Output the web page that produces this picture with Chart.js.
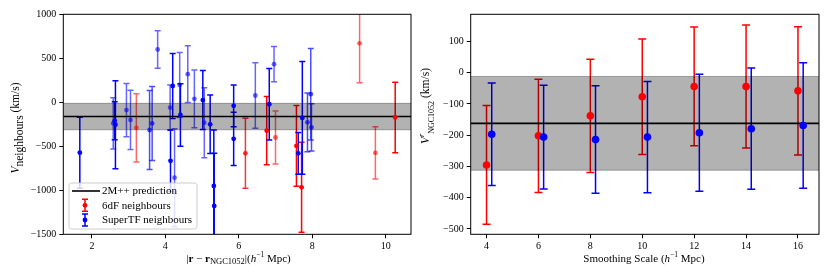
<!DOCTYPE html>
<html><head><meta charset="utf-8">
<script src="https://cdn.jsdelivr.net/npm/chart.js@4.4.0/dist/chart.umd.min.js"></script>
<style>html,body{margin:0;padding:0;background:#fff;}#wrap{position:relative;width:830px;height:277px;background:#fff}canvas{position:absolute;top:0}</style>
</head><body><div id="wrap"><canvas id="c1" width="415" height="277" style="left:0"></canvas><canvas id="c2" width="415" height="277" style="left:415px"></canvas></div>
<script>
// ---------------- data: left panel (neighbours) ----------------
const sixdfDist   = [3.21, 6.18, 6.76, 7.00, 7.57, 7.71, 9.29, 9.72, 10.26];
const sixdfVel    = [-290, -580, -323, -400, -495, -966, 670, -575, -172];
const sixdfErr    = [388, 398, 388, 300, 460, 511, 447, 297, 400];
const sixdfAlpha  = [0.6, 0.8, 1, 0.6, 1, 1, 0.6, 0.6, 1];

const superTFDist  = [1.67, 2.58, 2.62, 2.64, 2.94, 3.05, 3.57, 3.64, 3.79, 4.13, 4.14, 4.20, 4.25, 4.39, 4.41, 4.61, 4.79, 5.02, 5.06, 5.22, 5.32, 5.33, 5.86, 5.86, 6.45, 6.83, 6.96, 7.62, 7.73, 7.87, 7.96, 7.98];
const superTFVel   = [-573, -239, -210, -255, -88, -200, -315, -240, 600, -60, -665, 185, -857, 197, -144, 320, 40, 25, -232, -250, -951, -1178, -40, -415, 77, -22, 433, -580, -177, -228, 92, -285];
const superTFErr   = [403, 291, 215, 500, 303, 337, 450, 420, 214, 256, 350, 370, 557, 370, 355, 322, 328, 335, 398, 332, 636, 598, 237, 302, 373, 406, 200, 237, 640, 335, 520, 268];
const superTFAlpha = [1, 0.6, 1, 1, 0.6, 0.6, 0.7, 0.7, 0.6, 0.6, 1, 1, 0.6, 0.6, 1, 0.6, 0.6, 1, 0.6, 1, 1, 1, 1, 1, 0.6, 1, 0.6, 1, 1, 0.7, 0.7, 0.7];

// ---------------- data: right panel (smoothing) ----------------
const smoothScale   = [4, 6, 8, 10, 12, 14, 16];
const smooth6dF     = [-295, -202, -138, -77, -44, -44, -58];
const smooth6dFErr  = [190, 181, 181, 185, 190, 197, 205];
const smoothTF      = [-197, -206, -214, -206, -192, -179, -169];
const smoothTFErr   = [164, 166, 172, 178, 187, 194, 201];
const superTFOffset = 0.2;

// 2M++ prediction
const predCenter = -162;
const predErr = 150;

// axes
const leftXLimits  = [1.22, 10.69];
const leftYLimits  = [-1500, 1000];
const leftXTicks   = [2, 4, 6, 8, 10];
const leftYTicks   = [-1500, -1000, -500, 0, 500, 1000];
const rightXLimits = [3.39, 16.81];
const rightYLimits = [-517, 187];
const rightXTicks  = [4, 6, 8, 10, 12, 14, 16];
const rightYTicks  = [-500, -400, -300, -200, -100, 0, 100];

const FONT = '"Liberation Serif", "DejaVu Serif", serif';
const rgba = (r,g,b,a) => `rgba(${r},${g},${b},${a})`;
const fmt = v => String(v).replace('-', '\u2212');

function pts(xs, ys) { return xs.map((x, i) => ({x, y: ys[i]})); }

const errorBarPlugin = {
  id: 'errbars',
  beforeDatasetsDraw(chart) {
    const {ctx, chartArea: a, scales: {x, y}} = chart;
    ctx.save();
    ctx.beginPath(); ctx.rect(a.left, a.top, a.right - a.left, a.bottom - a.top); ctx.clip();
    chart.data.datasets.forEach(ds => {
      if (!ds.errors) return;
      ds.data.forEach((p, j) => {
        const px = x.getPixelForValue(p.x);
        const y1 = y.getPixelForValue(p.y - ds.errors[j]);
        const y2 = y.getPixelForValue(p.y + ds.errors[j]);
        const col = Array.isArray(ds.pointBackgroundColor) ? ds.pointBackgroundColor[j] : ds.pointBackgroundColor;
        ctx.strokeStyle = col; ctx.lineWidth = ds.errWidth;
        ctx.beginPath();
        ctx.moveTo(px, y1); ctx.lineTo(px, y2);
        ctx.moveTo(px - ds.capHalf, y1); ctx.lineTo(px + ds.capHalf, y1);
        ctx.moveTo(px - ds.capHalf, y2); ctx.lineTo(px + ds.capHalf, y2);
        ctx.stroke();
      });
    });
    ctx.restore();
  }
};

function drawRuns(ctx, runs, cx, cy, rot) {
  ctx.save();
  ctx.translate(cx, cy); ctx.rotate(rot);
  ctx.textBaseline = 'alphabetic'; ctx.textAlign = 'left'; ctx.fillStyle = '#000';
  const fontOf = r => (r.st ? r.st + ' ' : '') + r.sz + 'px ' + FONT;
  let total = 0;
  const ws = runs.map(r => { ctx.font = fontOf(r); const w = ctx.measureText(r.t).width; total += w; return w; });
  let xx = -total / 2;
  runs.forEach((r, i) => { ctx.font = fontOf(r); ctx.fillText(r.t, xx, r.dy || 0); xx += ws[i]; });
  ctx.restore();
}

function frame(ctx, a) {
  ctx.save();
  ctx.strokeStyle = '#000'; ctx.lineWidth = 1;
  ctx.strokeRect(a.left, a.top, a.right - a.left, a.bottom - a.top);
  ctx.restore();
}

const leftDecor = {
  id: 'leftDecor',
  afterDraw(chart) {
    const ctx = chart.ctx;
    frame(ctx, chart.chartArea);
    drawRuns(ctx, [{t: '|', sz: 11}, {t: 'r', sz: 11, st: 'bold'}, {t: ' \u2212 ', sz: 11}, {t: 'r', sz: 11, st: 'bold'},
      {t: 'NGC1052', sz: 8.5, dy: 2.5}, {t: '|(', sz: 11}, {t: 'h', sz: 11, st: 'italic'}, {t: '\u22121', sz: 7.5, dy: -4.5}, {t: ' Mpc)', sz: 11}], 238.5, 261.5, 0);
    drawRuns(ctx, [{t: 'V', sz: 11.5, st: 'italic'}, {t: 'neighbours', sz: 11.5, dy: 3.5}, {t: ' (km/s)', sz: 11.5}], 19, 128, -Math.PI / 2);
    // legend
    ctx.save();
    const lx = 69, ly = 183, lw = 128, lh = 46, r = 2.5;
    ctx.beginPath();
    ctx.moveTo(lx + r, ly); ctx.lineTo(lx + lw - r, ly); ctx.quadraticCurveTo(lx + lw, ly, lx + lw, ly + r);
    ctx.lineTo(lx + lw, ly + lh - r); ctx.quadraticCurveTo(lx + lw, ly + lh, lx + lw - r, ly + lh);
    ctx.lineTo(lx + r, ly + lh); ctx.quadraticCurveTo(lx, ly + lh, lx, ly + lh - r);
    ctx.lineTo(lx, ly + r); ctx.quadraticCurveTo(lx, ly, lx + r, ly); ctx.closePath();
    ctx.fillStyle = 'rgba(255,255,255,0.8)'; ctx.fill();
    ctx.strokeStyle = 'rgb(204,204,204)'; ctx.lineWidth = 1; ctx.stroke();
    ctx.strokeStyle = '#000'; ctx.lineWidth = 1.6;
    ctx.beginPath(); ctx.moveTo(72, 191); ctx.lineTo(100, 191); ctx.stroke();
    [[205.3, 'rgb(255,0,0)'], [220, 'rgb(0,0,255)']].forEach(([yy, c]) => {
      ctx.strokeStyle = c; ctx.lineWidth = 1.5; ctx.beginPath();
      ctx.moveTo(85, yy - 6); ctx.lineTo(85, yy + 6);
      ctx.moveTo(82, yy - 6); ctx.lineTo(88, yy - 6);
      ctx.moveTo(82, yy + 6); ctx.lineTo(88, yy + 6); ctx.stroke();
      ctx.fillStyle = c; ctx.beginPath(); ctx.arc(85, yy, 2.4, 0, Math.PI * 2); ctx.fill();
    });
    ctx.fillStyle = '#000'; ctx.font = '11px ' + FONT; ctx.textBaseline = 'middle'; ctx.textAlign = 'left';
    ctx.fillText('2M++ prediction', 102, 191.5);
    ctx.fillText('6dF neighbours', 102, 205.8);
    ctx.fillText('SuperTF neighbours', 102, 220.5);
    ctx.restore();
  }
};

const rightDecor = {
  id: 'rightDecor',
  afterDraw(chart) {
    const ctx = chart.ctx;
    frame(ctx, chart.chartArea);
    drawRuns(ctx, [{t: 'Smoothing Scale (', sz: 11}, {t: 'h', sz: 11, st: 'italic'}, {t: '\u22121', sz: 7.5, dy: -4.5}, {t: ' Mpc)', sz: 11}], 229, 261.5, 0);
    drawRuns(ctx, [{t: 'V', sz: 11.5, st: 'italic'}, {t: 'r', sz: 8, st: 'italic', dy: -5}, {t: 'NGC1052', sz: 8, dy: 5}, {t: ' (km/s)', sz: 11.5}], 13.5, 106, -Math.PI / 2);
  }
};

function bandDatasets(xlim) {
  return [
    {label: 'band-up', data: [{x: xlim[0], y: predCenter + predErr}, {x: xlim[1], y: predCenter + predErr}], showLine: true, pointRadius: 0, borderColor: rgba(0,0,0,0.3), borderWidth: 1, backgroundColor: rgba(0,0,0,0.3), fill: '+1', order: 5},
    {label: 'band-lo', data: [{x: xlim[0], y: predCenter - predErr}, {x: xlim[1], y: predCenter - predErr}], showLine: true, pointRadius: 0, borderColor: rgba(0,0,0,0.3), borderWidth: 1, fill: false, order: 5},
    {label: '2M++ prediction', data: [{x: xlim[0], y: predCenter}, {x: xlim[1], y: predCenter}], showLine: true, pointRadius: 0, borderColor: '#000', borderWidth: 1.6, fill: false, order: 4}
  ];
}

function axes(xlim, ylim, xt, yt, yWidth) {
  const tickFont = {family: FONT, size: 10};
  return {
    x: {type: 'linear', min: xlim[0], max: xlim[1],
        afterBuildTicks: s => { s.ticks = xt.map(v => ({value: v})); },
        afterFit: s => { s.height = 42.7; },
        ticks: {font: tickFont, color: '#000', padding: 2, maxRotation: 0, callback: v => fmt(v)},
        grid: {display: true, drawOnChartArea: false, drawTicks: true, tickLength: 4, color: '#000', lineWidth: 1},
        border: {display: false}},
    y: {type: 'linear', min: ylim[0], max: ylim[1],
        afterBuildTicks: s => { s.ticks = yt.map(v => ({value: v})); },
        afterFit: s => { s.width = yWidth; },
        ticks: {font: tickFont, color: '#000', padding: 3, callback: v => fmt(v)},
        grid: {display: true, drawOnChartArea: false, drawTicks: true, tickLength: 4, color: '#000', lineWidth: 1},
        border: {display: false}}
  };
}

// ---------------- left chart ----------------
new Chart(document.getElementById('c1'), {
  type: 'scatter',
  data: {datasets: [
    ...bandDatasets(leftXLimits),
    {label: '6dF neighbours', data: pts(sixdfDist, sixdfVel), errors: sixdfErr, errWidth: 1.5, capHalf: 3,
     pointBackgroundColor: sixdfAlpha.map(a => rgba(255,0,0,a)), pointBorderWidth: 0, pointRadius: 2.4, order: 1},
    {label: 'SuperTF neighbours', data: pts(superTFDist, superTFVel), errors: superTFErr, errWidth: 1.5, capHalf: 3,
     pointBackgroundColor: superTFAlpha.map(a => rgba(0,0,255,a)), pointBorderWidth: 0, pointRadius: 2.4, order: 0}
  ]},
  options: {
    responsive: false, animation: false, devicePixelRatio: 1,
    layout: {padding: {top: 14.3, right: 2.7, bottom: 0, left: 0}},
    scales: axes(leftXLimits, leftYLimits, leftXTicks, leftYTicks, 63.3),
    plugins: {legend: {display: false}, tooltip: {enabled: false}}
  },
  plugins: [errorBarPlugin, leftDecor]
});

// ---------------- right chart ----------------
new Chart(document.getElementById('c2'), {
  type: 'scatter',
  data: {datasets: [
    ...bandDatasets(rightXLimits),
    {label: '6dF', data: pts(smoothScale, smooth6dF), errors: smooth6dFErr, errWidth: 1.5, capHalf: 4,
     pointBackgroundColor: 'rgb(255,0,0)', pointBorderWidth: 0, pointRadius: 3.8, order: 1},
    {label: 'SuperTF', data: pts(smoothScale.map(s => s + superTFOffset), smoothTF), errors: smoothTFErr, errWidth: 1.5, capHalf: 4,
     pointBackgroundColor: 'rgb(0,0,255)', pointBorderWidth: 0, pointRadius: 3.8, order: 0}
  ]},
  options: {
    responsive: false, animation: false, devicePixelRatio: 1,
    layout: {padding: {top: 14.3, right: 11, bottom: 0, left: 0}},
    scales: axes(rightXLimits, rightYLimits, rightXTicks, rightYTicks, 55.7),
    plugins: {legend: {display: false}, tooltip: {enabled: false}}
  },
  plugins: [errorBarPlugin, rightDecor]
});
</script></body></html>
